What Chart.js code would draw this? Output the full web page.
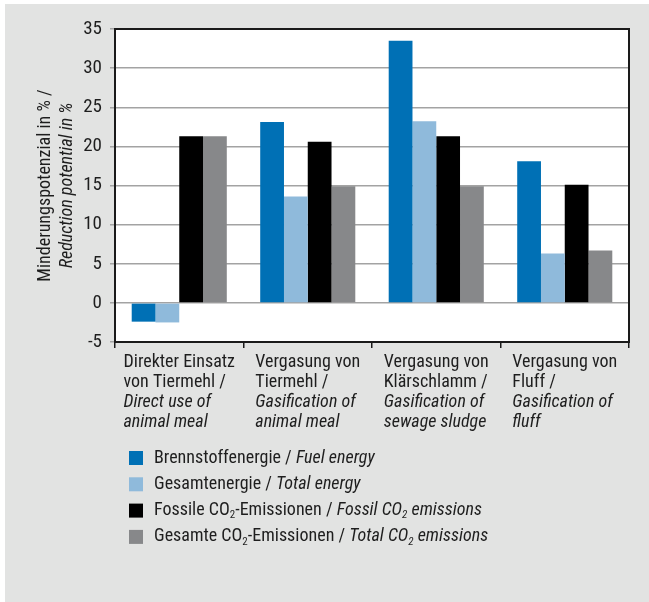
<!DOCTYPE html>
<html>
<head>
<meta charset="utf-8">
<script src="https://cdn.jsdelivr.net/npm/chart.js@4.4.1/dist/chart.umd.min.js"></script>
<style>
  html, body { margin: 0; padding: 0; background: #fff; }
  canvas { display: block; }
</style>
</head>
<body>
<canvas id="reductionChart" width="649" height="602"></canvas>
<script>
// categories: German lines (upright) and English lines (italic)
const categoriesDe = [
    ['Direkter Einsatz', 'von Tiermehl /'],
    ['Vergasung von', 'Tiermehl /'],
    ['Vergasung von', 'Klärschlamm /'],
    ['Vergasung von', 'Fluff /']
];
const categoriesEn = [
    ['Direct use of', 'animal meal'],
    ['Gasification of', 'animal meal'],
    ['Gasification of', 'sewage sludge'],
    ['Gasification of', 'fluff']
];

const seriesLabels = [
    'Brennstoffenergie / Fuel energy',
    'Gesamtenergie / Total energy',
    'Fossile CO2-Emissionen / Fossil CO2 emissions',
    'Gesamte CO2-Emissionen / Total CO2 emissions'
];
const seriesColors = ['#0070b5', '#8fbadb', '#000000', '#87888a'];

const fuelEnergy = [-2.4, 23.1, 33.5, 18.1];
const totalEnergy = [-2.5, 13.6, 23.2, 6.3];
const fossilCO2 = [21.3, 20.6, 21.3, 15.1];
const totalCO2 = [21.3, 14.9, 14.9, 6.7];

const yMin = -5, yMax = 35, yStep = 5;
const yTitle = ['Minderungspotenzial in % /', 'Reduction potential in %'];

const FONT = "'Liberation Sans Narrow', 'Arial Narrow', 'Roboto Condensed', sans-serif";
const TEXT_COLOR = '#1e1e1e';

function fontStr(size, italic) {
    return (italic ? 'italic ' : '') + size + 'px ' + FONT;
}

// "CO2" gets a lowered small 2, the part after " / " is italic
function toSegments(label) {
    let parts = label.split(' / ');
    let segs = [];
    parts.forEach((part, i) => {
        let italic = i > 0;
        let txt = i < parts.length - 1 ? part + ' / ' : part;
        let pieces = txt.split('CO2');
        pieces.forEach((p, j) => {
            if (p) segs.push({text: p, italic: italic, sub: false});
            if (j < pieces.length - 1) {
                segs.push({text: 'CO', italic: italic, sub: false});
                segs.push({text: '2', italic: italic, sub: true});
            }
        });
    });
    return segs;
}

function drawSegments(ctx, segs, x, y, size) {
    segs.forEach(s => {
        let sz = s.sub ? Math.round(size * 0.62) : size;
        ctx.font = fontStr(sz, s.italic);
        ctx.fillText(s.text, x, s.sub ? y + 5 : y);
        x += ctx.measureText(s.text).width;
    });
}

const panelPlugin = {
    id: 'panel',
    beforeDraw(chart) {
        let ctx = chart.ctx;
        let a = chart.chartArea;
        ctx.save();
        ctx.fillStyle = '#ffffff';
        ctx.fillRect(0, 0, chart.width, chart.height);
        ctx.fillStyle = '#e2e3e2';
        ctx.fillRect(5, 4, chart.width - 5, chart.height - 4);
        ctx.fillStyle = '#ffffff';
        ctx.fillRect(a.left, a.top, a.right - a.left, a.bottom - a.top);
        ctx.restore();
    },
    afterDatasetsDraw(chart) {
        let ctx = chart.ctx;
        let a = chart.chartArea;
        ctx.save();
        ctx.strokeStyle = '#1a1a1a';
        ctx.lineWidth = 2;
        ctx.strokeRect(a.left, a.top, a.right - a.left, a.bottom - a.top);
        ctx.restore();
    },
    afterDraw(chart) {
        let ctx = chart.ctx;
        let a = chart.chartArea;
        let xScale = chart.scales.x;
        ctx.save();
        ctx.fillStyle = TEXT_COLOR;
        ctx.textBaseline = 'alphabetic';
        ctx.textAlign = 'left';

        // category labels, left aligned block centred in its category
        categoriesDe.forEach((de, i) => {
            let lines = de.map(t => ({text: t, italic: false}))
                .concat(categoriesEn[i].map(t => ({text: t, italic: true})));
            let maxW = 0;
            lines.forEach(l => {
                ctx.font = fontStr(18, l.italic);
                maxW = Math.max(maxW, ctx.measureText(l.text).width);
            });
            let cx = xScale.getPixelForValue(i);
            let x0 = cx - maxW / 2;
            lines.forEach((l, k) => {
                ctx.font = fontStr(18, l.italic);
                ctx.fillText(l.text, x0, a.bottom + 25 + k * 20);
            });
        });

        // y axis title
        let cy = (a.top + a.bottom) / 2;
        ctx.textAlign = 'center';
        ctx.textBaseline = 'middle';
        [45, 67].forEach((x, k) => {
            ctx.save();
            ctx.translate(x, cy);
            ctx.rotate(-Math.PI / 2);
            ctx.font = fontStr(18, k === 1);
            ctx.fillText(yTitle[k], 0, 0);
            ctx.restore();
        });

        // legend
        ctx.textAlign = 'left';
        ctx.textBaseline = 'middle';
        chart.data.datasets.forEach((ds, i) => {
            let rowY = 458 + i * 26.3;
            ctx.fillStyle = ds.backgroundColor;
            ctx.fillRect(129, rowY - 7, 14, 14);
            ctx.fillStyle = TEXT_COLOR;
            drawSegments(ctx, toSegments(ds.label), 154, rowY, 18);
        });
        ctx.restore();
    }
};

const seriesData = [fuelEnergy, totalEnergy, fossilCO2, totalCO2];

new Chart(document.getElementById('reductionChart'), {
    type: 'bar',
    data: {
        labels: categoriesDe.map((de, i) => de.concat(categoriesEn[i]).join(' ')),
        datasets: seriesData.map((d, i) => ({
            label: seriesLabels[i],
            data: d,
            backgroundColor: seriesColors[i],
            borderWidth: 0,
            categoryPercentage: 0.74,
            barPercentage: 1.0
        }))
    },
    options: {
        responsive: false,
        animation: false,
        layout: {padding: {top: 29, right: 20, left: 0, bottom: 0}},
        scales: {
            x: {
                grid: {
                    offset: true,
                    drawOnChartArea: false,
                    drawTicks: true,
                    tickLength: 6,
                    color: '#1a1a1a',
                    lineWidth: 1.5
                },
                border: {display: false},
                ticks: {display: false},
                afterFit: scale => { scale.height = 260; }
            },
            y: {
                min: yMin,
                max: yMax,
                ticks: {
                    stepSize: yStep,
                    padding: 8,
                    color: TEXT_COLOR,
                    font: {family: FONT, size: 19}
                },
                grid: {
                    color: '#a3a3a3',
                    lineWidth: 1.5,
                    tickLength: 5
                },
                border: {display: false},
                afterFit: scale => { scale.width = 115; }
            }
        },
        plugins: {
            legend: {display: false},
            tooltip: {enabled: false},
            title: {display: false}
        }
    },
    plugins: [panelPlugin]
});
</script>
</body>
</html>
